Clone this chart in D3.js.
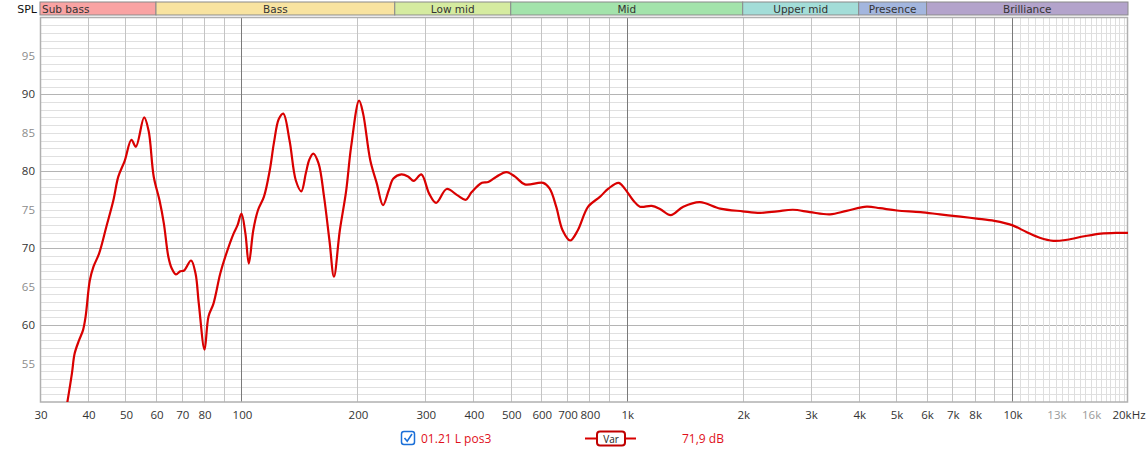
<!DOCTYPE html>
<html><head><meta charset="utf-8">
<script src="https://cdn.jsdelivr.net/npm/d3@7"></script>
<style>
body{margin:0;background:#fff;}
svg{display:block;}
</style></head>
<body>
<svg id="chart" width="1148" height="450"></svg>
<script>
// ---- data ----
const freqs = [35.2,36.3,36.9,37.9,38.8,39.4,40.4,41.3,42.7,44.6,46.5,47.9,49.8,51.8,53.2,55.9,57.4,59.2,61.3,62.9,64.6,65.9,67.6,69.4,71.0,74.0,76.0,77.5,80.2,82.1,84.6,88.1,90.8,95.4,97.7,100,102.4,104.5,107.3,110.3,114.4,118.4,121.5,125,128.4,133.3,138.4,143,147,150,153.6,158.6,163.8,169.2,173.8,180,187,192.6,202,206.9,216,224.6,233,241,248,260,271,280,293,307,320,341,363,382,396,421,437,459,487,513,544,607,631,656,682,713,746,794,853,896,953,988,1040,1082,1161,1220,1300,1402,1548,1748,2000,2218,2457,2700,2987,3370,3720,4196,4542,5030,5788,6500,7350,8100,9000,10000,10900,11800,12800,13900,15400,17000,18800,20000];
const spl = [49.5,53.7,56.3,58.05,59.35,61.1,65.8,67.6,69.3,72.8,76.2,79.3,81.4,84.1,83.2,87.0,85.3,79.3,76.2,73.2,68.9,67.4,66.6,67.0,67.1,68.4,66.7,62.8,56.8,61.1,62.8,66.7,68.9,71.9,73.0,74.5,71.9,68.0,72.3,74.9,76.7,80.1,83.8,86.8,87.5,84.0,78.8,77.4,79.8,81.5,82.3,81.0,76.7,71.0,66.3,72.3,77.5,83.2,89.2,87.5,81.4,78.4,75.6,77.5,79.05,79.6,79.3,78.75,79.6,77.1,75.9,77.7,76.9,76.3,77.3,78.5,78.6,79.3,79.9,79.3,78.3,78.5,77.75,75.4,72.3,71.0,72.3,75.4,76.7,77.75,78.5,77.75,76.2,75.4,75.5,75.1,74.3,75.4,76.0,75.15,74.8,74.6,74.8,75.0,74.7,74.4,74.85,75.4,75.2,74.9,74.7,74.4,74.1,73.85,73.55,73.0,72.1,71.35,70.95,71.1,71.55,71.9,72.0,72.0];

const bandNames = ["Sub bass","Bass","Low mid","Mid","Upper mid","Presence","Brilliance"];
const bandEdges = [30,60,250,500,2000,4000,6000,20000];
const bandColors = ["#f9a3a3","#f8e3a0","#d5eba0","#a3e3ab","#a3ddd8","#a3b6de","#b3a3cb"];

const xTickVals = [30,40,50,60,70,80,100,200,300,400,500,600,700,800,1000,2000,3000,4000,5000,6000,7000,8000,10000,13000,16000,20000];
const xTickLabels = ["30","40","50","60","70","80","100","200","300","400","500","600","700","800","1k","2k","3k","4k","5k","6k","7k","8k","10k","13k","16k","20kHz"];
const xTickMuted = ["13k","16k"];
const yTickVals = [55,60,65,70,75,80,85,90,95];

const seriesName = "01.21 L pos3";
const smoothLabel = "Var";
const avgLabel = "71,9 dB";

// ---- layout ----
const L = 40, R = 1128, T = 17.5, B = 402;
const svg = d3.select("#chart");
const x = d3.scaleLog().domain([30,20000]).range([L,R]);
const y = d3.scaleLinear().domain([50,100]).range([B,T]);

// grid: horizontal
const hg = svg.append("g");
d3.range(51,100).forEach(v=>{
  hg.append("line").attr("x1",L).attr("x2",R).attr("y1",Math.round(y(v))+0.5).attr("y2",Math.round(y(v))+0.5)
    .attr("stroke", v%10===0 ? "#b4b4b4" : "#e0e0e0").attr("stroke-width",1);
});
// grid: vertical
const vg = svg.append("g");
const minorV = [];
[10,100,1000].forEach(d=>{ for(let k=2;k<=9;k++){ const f=k*d; if(f>30 && f<20000 && f!==100 && f!==1000) minorV.push(f);} });
const fineV = d3.range(10500,20000,500);
fineV.forEach(f=>{
  vg.append("line").attr("y1",T).attr("y2",B).attr("x1",Math.round(x(f))+0.5).attr("x2",Math.round(x(f))+0.5)
    .attr("stroke","#dedede");
});
minorV.filter(f=>f<10000).forEach(f=>{
  vg.append("line").attr("y1",T).attr("y2",B).attr("x1",Math.round(x(f))+0.5).attr("x2",Math.round(x(f))+0.5)
    .attr("stroke","#c4c4c4");
});
[100,1000,10000].forEach(f=>{
  vg.append("line").attr("y1",T).attr("y2",B).attr("x1",Math.round(x(f))+0.5).attr("x2",Math.round(x(f))+0.5)
    .attr("stroke","#7a7a7a");
});
// frame
svg.append("rect").attr("x",L+0.5).attr("y",T).attr("width",R-L-1).attr("height",B-T)
  .attr("fill","none").attr("stroke","#b0b0b0").attr("stroke-width",1.5);

// bands
const bg = svg.append("g");
bandNames.forEach((n,i)=>{
  const x0 = x(bandEdges[i]), x1 = x(bandEdges[i+1]);
  bg.append("rect").attr("x",x0).attr("y",2).attr("width",x1-x0).attr("height",13)
    .attr("fill",bandColors[i]).attr("stroke","#8a8a8a").attr("stroke-width",1);
  bg.append("text").attr("x", i===0 ? x0+2 : (x0+x1)/2).attr("y",12.5)
    .attr("text-anchor", i===0 ? "start":"middle")
    .attr("font-family","DejaVu Sans, Verdana, sans-serif").attr("font-size","10.5px")
    .attr("fill","#333").text(n);
});
svg.append("text").attr("x",37).attr("y",13).attr("text-anchor","end")
  .attr("font-family","DejaVu Sans, sans-serif").attr("font-size","11px").attr("fill","#111").text("SPL");

// y labels
yTickVals.forEach(v=>{
  svg.append("text").attr("x",35).attr("y",y(v)+4).attr("text-anchor","end")
    .attr("font-family","Open Sans, Noto Sans, sans-serif").attr("font-size","11.5px")
    .attr("fill", v%10===0 ? "#333" : "#8c8c8c").text(v);
});
// x labels
xTickVals.forEach((v,i)=>{
  const lab = xTickLabels[i];
  svg.append("text").attr("x",x(v)+1).attr("y",419).attr("text-anchor","middle")
    .attr("font-family","Open Sans, Noto Sans, sans-serif").attr("font-size","11.5px")
    .attr("fill", xTickMuted.includes(lab) ? "#9a9a9a" : "#333").text(lab);
});

// curve
svg.append("clipPath").attr("id","clip").append("rect").attr("x",L).attr("y",T).attr("width",R-L).attr("height",B-T);
const pts = freqs.map((f,i)=>[f,spl[i]]);
const line = d3.line().x(d=>x(d[0])).y(d=>y(d[1])).curve(d3.curveCatmullRom.alpha(0.5));
svg.append("path").attr("d",line(pts)).attr("clip-path","url(#clip)")
  .attr("fill","none").attr("stroke","#d90000").attr("stroke-width",2.2).attr("stroke-linejoin","round");

// legend
const lg = svg.append("g");
lg.append("rect").attr("x",401.5).attr("y",431.5).attr("width",13).attr("height",13).attr("rx",2.5)
  .attr("fill","#fff").attr("stroke","#1a6fd8").attr("stroke-width",1.5);
lg.append("path").attr("d","M404.5,438 L407.2,441.2 L412,434").attr("fill","none")
  .attr("stroke","#1a6fd8").attr("stroke-width",1.6);
lg.append("text").attr("x",421).attr("y",443).attr("font-family","Open Sans, Noto Sans, sans-serif")
  .attr("font-size","12px").attr("fill","#e0101a").text(seriesName);
lg.append("line").attr("x1",585).attr("x2",636).attr("y1",438.5).attr("y2",438.5).attr("stroke","#d90000").attr("stroke-width",2);
lg.append("rect").attr("x",597).attr("y",431.5).attr("width",28).attr("height",14).attr("rx",3)
  .attr("fill","#fff").attr("stroke","#c00000").attr("stroke-width",2);
lg.append("text").attr("x",611).attr("y",442.5).attr("text-anchor","middle").attr("font-family","Open Sans, Noto Sans, sans-serif")
  .attr("font-size","10px").attr("fill","#222").text(smoothLabel);
lg.append("text").attr("x",682).attr("y",443).attr("font-family","Open Sans, Noto Sans, sans-serif")
  .attr("font-size","12px").attr("fill","#e0101a").text(avgLabel);
</script>
</body></html>
